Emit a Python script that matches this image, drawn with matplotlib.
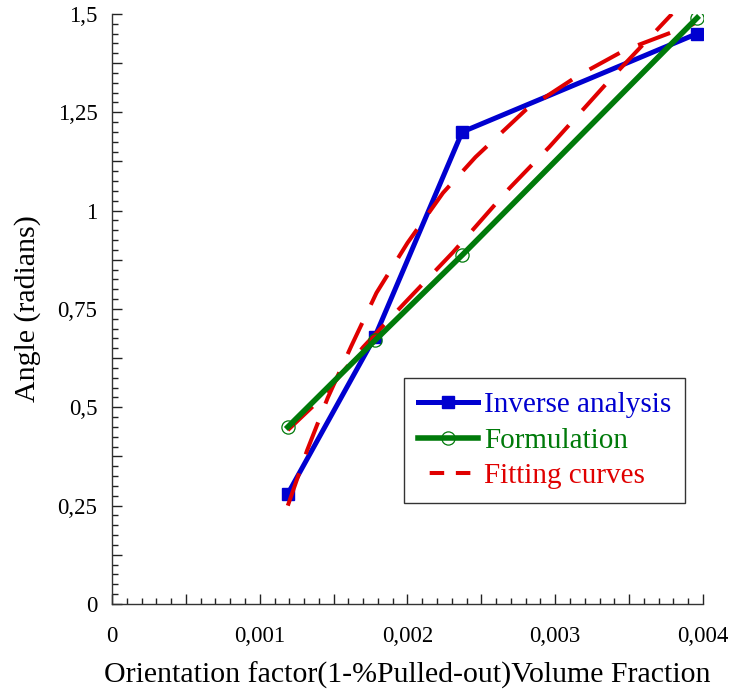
import matplotlib
matplotlib.use("Agg")
import matplotlib.pyplot as plt
from matplotlib.lines import Line2D
from matplotlib.ticker import MultipleLocator, FixedLocator

plt.rcParams['font.family'] = ['Liberation Serif', 'DejaVu Serif']

# Measured points
x_pts = [0.00119, 0.00178, 0.00237, 0.00396]
inverse_analysis = [0.28, 0.68, 1.20, 1.45]
formulation = [0.45, 0.67, 0.887, 1.49]

# Fitted curves (sampled)
fit_inv_x = [0.00119, 0.00132, 0.00146, 0.00162, 0.00179, 0.00200, 0.00224,
             0.00246, 0.00280, 0.00315, 0.00347, 0.00394]
fit_inv_y = [0.25, 0.39, 0.524, 0.656, 0.791, 0.918, 1.045,
             1.136, 1.256, 1.342, 1.408, 1.475]
fit_form_x = [0.00119, 0.00142, 0.00170, 0.00198, 0.00231, 0.00269, 0.00296,
              0.00338, 0.00379]
fit_form_y = [0.442, 0.524, 0.653, 0.765, 0.895, 1.057, 1.162,
              1.337, 1.50]

y_ticks = [0, 0.25, 0.5, 0.75, 1, 1.25, 1.5]
y_ticklabels = ['0', '0,25', '0,5', '0,75', '1', '1,25', '1,5']
x_ticks = [0, 0.001, 0.002, 0.003, 0.004]
x_ticklabels = ['0', '0,001', '0,002', '0,003', '0,004']

BLUE = '#0000d0'
GREEN = '#007a0a'
RED = '#e00000'

fig = plt.figure(figsize=(7.31, 6.98), dpi=100)
ax = fig.add_axes([0.1532, 0.1347, 0.9617 - 0.1532, 0.980 - 0.1347])

ax.plot(x_pts, inverse_analysis, color=BLUE, lw=3.6, marker='s', ms=8,
        mfc=BLUE, mec=BLUE, zorder=3)
ax.plot(fit_inv_x, fit_inv_y, color=RED, lw=2.9, dashes=(8.5, 5.0), zorder=4)
ax.plot(fit_form_x, fit_form_y, color=RED, lw=2.9, dashes=(8.5, 5.0), zorder=4)
ax.plot(x_pts, formulation, color=GREEN, lw=4.0, marker='o', ms=9.5,
        mfc='none', mec=GREEN, mew=0.9, zorder=5)

ax.set_xlim(0, 0.004)
ax.set_ylim(0, 1.5)

ax.yaxis.set_major_locator(FixedLocator([i * 0.125 for i in range(13)]))
ax.yaxis.set_minor_locator(MultipleLocator(0.025))
ax.xaxis.set_major_locator(FixedLocator([i * 0.0005 for i in range(9)]))
ax.xaxis.set_minor_locator(MultipleLocator(0.0001))

ylab_map = dict(zip(y_ticks, y_ticklabels))
xlab_map = dict(zip(x_ticks, x_ticklabels))
ax.set_yticklabels([ylab_map.get(round(i * 0.125, 4), '') for i in range(13)])
ax.set_xticklabels([xlab_map.get(round(i * 0.0005, 4), '') for i in range(9)])

ax.tick_params(axis='both', which='both', direction='in', color='#222222',
               width=1.0, labelsize=16.5)
ax.tick_params(axis='both', which='major', length=7.5)
ax.tick_params(axis='both', which='minor', length=4)
ax.tick_params(axis='y', which='major', pad=10.5)
ax.tick_params(axis='x', which='major', pad=16)

for side in ('top', 'right'):
    ax.spines[side].set_visible(False)
for side in ('left', 'bottom'):
    ax.spines[side].set_color('#333333')
    ax.spines[side].set_linewidth(1.0)

ax.set_ylabel('Angle (radians)', fontsize=21.5)
ax.set_xlabel('Orientation factor(1-%Pulled-out)Volume Fraction', fontsize=21.5)
ax.yaxis.set_label_coords(-0.120, 0.5)
ax.xaxis.set_label_coords(0.5, -0.098)

handles = [
    Line2D([], [], color=BLUE, lw=3.6, marker='s', ms=8, mfc=BLUE, mec=BLUE),
    Line2D([], [], color=GREEN, lw=4.0, marker='o', ms=9.5, mfc='none',
           mec=GREEN, mew=0.9),
    Line2D([], [], color=RED, lw=2.9, linestyle=(3.6, (3.6, 2.9))),
]
leg = ax.legend(handles, ['Inverse analysis', 'Formulation', 'Fitting curves'],
                loc='upper left', bbox_to_anchor=(0.494, 0.383),
                borderaxespad=0, fancybox=False, framealpha=1,
                edgecolor='#333333', fontsize=21, numpoints=1,
                handlelength=2.07, handletextpad=0.2, labelspacing=0.31,
                borderpad=0.48)
leg.get_frame().set_linewidth(1.0)
for txt, c in zip(leg.get_texts(), [BLUE, GREEN, RED]):
    txt.set_color(c)

fig.savefig('out.png', dpi=100)
